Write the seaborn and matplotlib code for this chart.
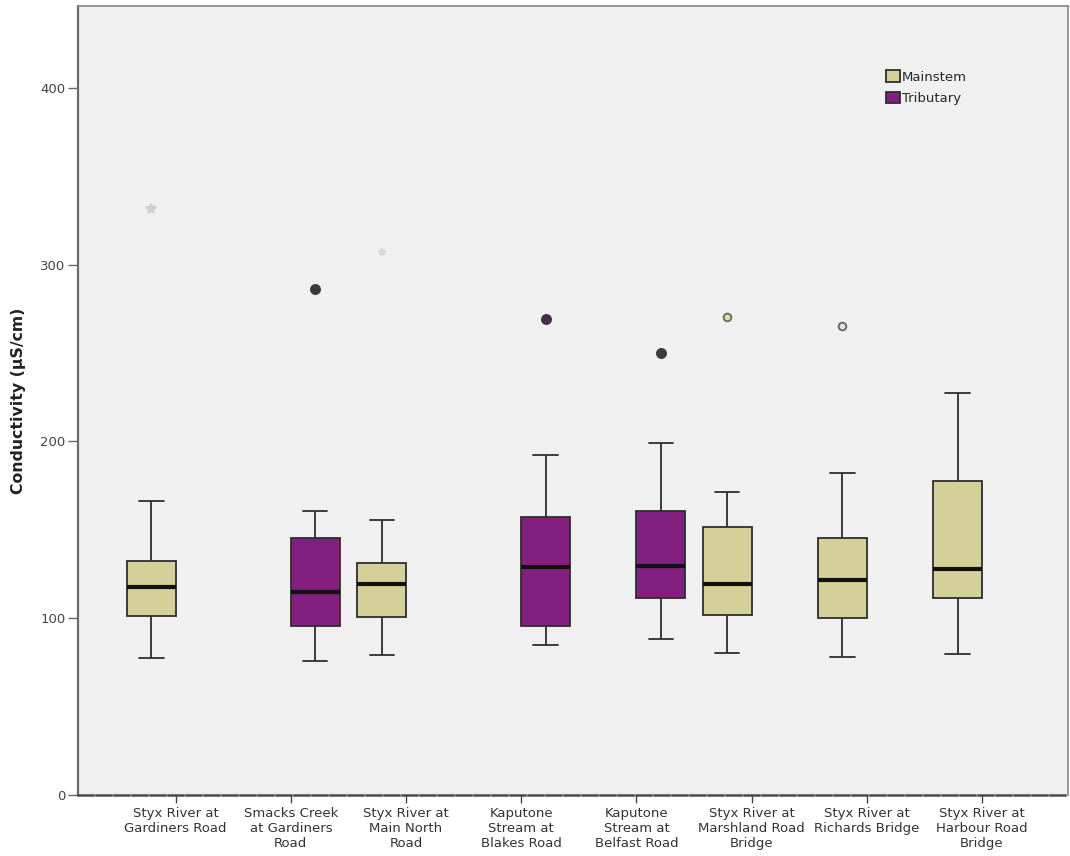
import numpy as np
import pandas as pd
import matplotlib
matplotlib.use("Agg")
import matplotlib.pyplot as plt
import seaborn as sns

# Sampling sites along the Styx River catchment
sites = [
    "Styx River at\nGardiners Road",
    "Smacks Creek\nat Gardiners\nRoad",
    "Styx River at\nMain North\nRoad",
    "Kaputone\nStream at\nBlakes Road",
    "Kaputone\nStream at\nBelfast Road",
    "Styx River at\nMarshland Road\nBridge",
    "Styx River at\nRichards Bridge",
    "Styx River at\nHarbour Road\nBridge",
]
site_type = ["Mainstem", "Tributary", "Mainstem", "Tributary",
             "Tributary", "Mainstem", "Mainstem", "Mainstem"]

# Conductivity summary per site (µS/cm)
whisker_low = [77.7, 75.8, 79.2, 84.9, 88.1, 80.2, 78.3, 79.6]
lower_quartile = [101.3, 95.8, 100.7, 95.8, 111.7, 101.7, 100.4, 111.3]
median = [117.5, 114.9, 119.2, 129.0, 129.6, 119.6, 121.5, 127.9]
upper_quartile = [132.4, 145.3, 131.5, 157.2, 160.7, 151.8, 145.3, 177.9]
whisker_high = [166.5, 160.9, 155.4, 192.6, 199.4, 171.3, 182.2, 227.3]
outlier = [331.6, 286.2, 307.3, 269.4, 250.3, 270.7, 265.2, None]

type_order = ["Mainstem", "Tributary"]
palette = {"Mainstem": "#d5d098", "Tributary": "#83207f"}

# Outlier marker styles per site: (marker, face, edge, size)
outlier_style = [
    ("*", "#cfcfcf", "#cfcfcf", 7),
    ("o", "#3a3a3a", "#3a3a3a", 6.5),
    ("*", "#d8d8d8", "#d8d8d8", 6),
    ("o", "#4a2d4a", "#4a2d4a", 6.5),
    ("o", "#3c3c3c", "#3c3c3c", 6.5),
    ("o", "#e2ddb0", "#6f6f55", 5.5),
    ("o", "#e4e4e4", "#6a6a6a", 5.5),
    ("o", "#3c3c3c", "#3c3c3c", 6.5),
]

# Build sample rows whose quartiles reproduce the summaries above
rows = []
for s, t, lo, a, m, b, hi, out in zip(sites, site_type, whisker_low, lower_quartile,
                                       median, upper_quartile, whisker_high, outlier):
    vals = [lo] * 4 + [a] * 4 + [m] * 4 + [b] * 4 + [hi] * 4
    if out is not None:
        vals.append(out)
    rows += [(s, t, v) for v in vals]
df = pd.DataFrame(rows, columns=["site", "type", "conductivity"])

sns.set_theme(style="ticks")
plt.rcParams["font.family"] = ["DejaVu Sans"]

fig = plt.figure(figsize=(10.7, 8.56), dpi=100)
ax = fig.add_axes([0.0729, 0.0713, 0.9251, 0.9217])
ax.set_facecolor("#f0f0f0")

sns.boxplot(
    data=df, x="site", y="conductivity", hue="type",
    order=sites, hue_order=type_order, palette=palette,
    dodge=True, width=0.845, gap=0, linewidth=1.3, linecolor="#2e2e2e",
    saturation=1, ax=ax,
    medianprops=dict(color="#111111", linewidth=3),
    flierprops=dict(marker="o"),
)

# Restyle each site's outlier marker
for line in ax.lines:
    xd = np.asarray(line.get_xdata(), dtype=float)
    if line.get_marker() == "o" and len(xd) > 0 and line.get_linestyle() in ("None", ""):
        idx = int(round(xd[0]))
        mk, fc, ec, ms = outlier_style[idx]
        line.set_marker(mk)
        line.set_markerfacecolor(fc)
        line.set_markeredgecolor(ec)
        line.set_markersize(ms)
        line.set_markeredgewidth(1.4)

ax.set_xlim(-0.848, 7.746)
ax.set_ylim(0, 446.4)
ax.set_yticks([0, 100, 200, 300, 400])
ax.tick_params(axis="y", length=7, width=1, color="#666666", labelsize=9.5,
               labelcolor="#444444", pad=2)
ax.tick_params(axis="x", length=6, width=1, color="#444444", labelsize=9.5,
               labelcolor="#333333", pad=3)
ax.set_xlabel("")
ax.set_ylabel("Conductivity (µS/cm)", fontsize=11.3, fontweight="bold",
              color="#222222", labelpad=10)

for side in ["left", "top", "right"]:
    ax.spines[side].set_visible(True)
ax.spines["left"].set_color("#6a6a6a")
ax.spines["left"].set_linewidth(1.6)
ax.spines["top"].set_color("#8a8a8a")
ax.spines["right"].set_color("#8a8a8a")
ax.spines["bottom"].set_color("#4a4a4a")
ax.spines["bottom"].set_linewidth(1.8)
ax.spines["bottom"].set_linestyle((0, (6, 1.2)))

sns.move_legend(
    ax, "upper left", bbox_to_anchor=(0.81, 0.927), frameon=False, title=None,
    fontsize=9.5, handlelength=1.0, handleheight=1.0, handletextpad=0.15,
    labelspacing=0.6, borderpad=0,
)

fig.savefig("out.png", dpi=100, facecolor="white")
